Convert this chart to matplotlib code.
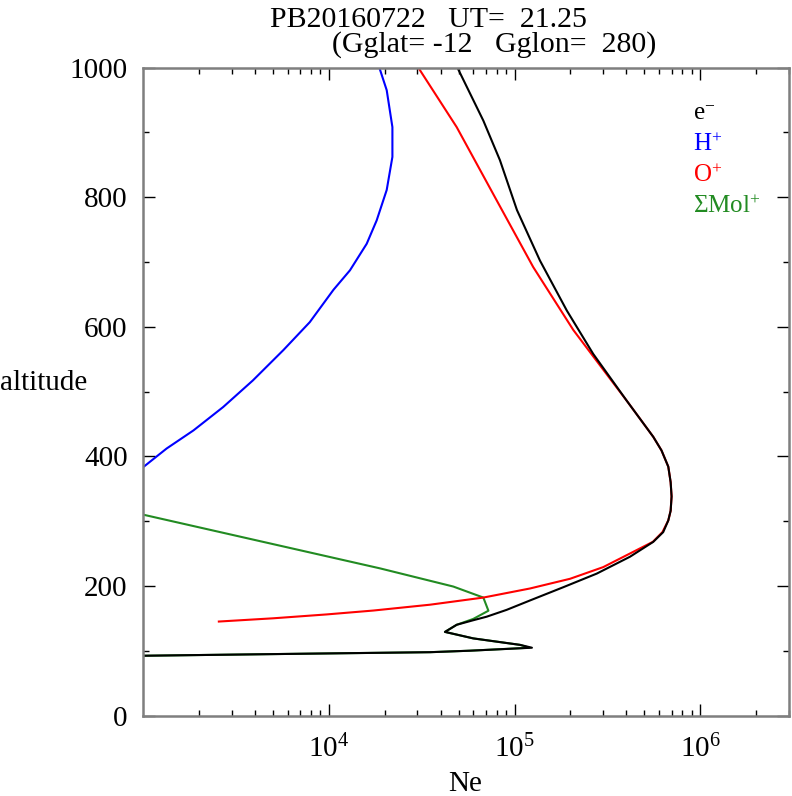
import matplotlib
matplotlib.use("Agg")
import matplotlib.pyplot as plt
from matplotlib.ticker import LogLocator, MultipleLocator

plt.rcParams["font.family"] = ["Liberation Serif", "DejaVu Serif"]
plt.rcParams["mathtext.fontset"] = "custom"
plt.rcParams["mathtext.rm"] = "Liberation Serif"
plt.rcParams["mathtext.it"] = "Liberation Serif:italic"

# electron density profile (e-)
e_alt = [1000, 918, 857, 780, 702, 625, 558, 486, 430, 409, 384, 360, 338, 316,
         301, 283, 268, 245, 219, 198, 177.5, 163, 152.5, 147, 140, 129, 119,
         109, 104.6, 100, 97.7, 95.4, 92.2, 91.5]
e_ne = [49200, 67900, 83400, 103000, 137000, 191000, 265000, 401000, 558000,
        618000, 672000, 692000, 700000, 692000, 672000, 631000, 558000, 418000,
        277000, 183000, 121000, 90600, 70800, 59900, 48800, 42200, 59900,
        107000, 124000, 57500, 35100, 7600, 1000, 700]

# H+
h_alt = [1000, 965, 908, 862, 811, 764, 728, 687, 657, 607, 564, 517, 476, 440, 412, 383, 370]
h_ne = [18700, 20500, 22000, 22000, 20500, 18100, 16000, 13000, 10600, 7900,
        5700, 3900, 2700, 1870, 1340, 1000, 850]

# O+
o_alt = [1000, 908, 795, 692, 595, 520, 486, 430, 409, 384, 360, 338, 316, 301,
         283, 268, 250, 229, 211, 196, 182, 171, 162, 156, 150, 145]
o_ne = [30300, 48800, 80100, 126000, 207000, 326000, 401000, 558000, 618000,
        672000, 692000, 700000, 692000, 672000, 625000, 555000, 418000, 300000,
        199000, 121000, 67900, 35100, 17400, 9760, 5020, 2560]

# Sum of molecular ions
m_alt = [315, 310, 227, 199, 182, 161.7, 149, 140, 129, 119, 109, 104.6, 100,
         97.7, 95.4, 92.2, 91.5]
m_ne = [850, 1000, 18900, 46800, 67900, 72300, 59900, 48800, 42200, 59900,
        107000, 120000, 57500, 35100, 7600, 1000, 700]

fig = plt.figure(figsize=(7.92, 7.96), dpi=100)
ax = fig.add_axes([143 / 792, 1 - 715.5 / 796, 646 / 792, 648 / 796])

ax.plot(h_ne, h_alt, color="#0000ff", lw=1.5)
ax.plot(m_ne, m_alt, color="#228b22", lw=1.5)
ax.plot(o_ne, o_alt, color="#ff0000", lw=1.5)
ax.plot(e_ne, e_alt, color="black", lw=1.5)

ax.set_xscale("log")
ax.set_xlim(1e3, 3e6)
ax.set_ylim(0, 1000)
ax.xaxis.set_minor_locator(LogLocator(base=10, subs=range(2, 10), numticks=20))
ax.set_xticks([1e4, 1e5, 1e6])
ax.yaxis.set_major_locator(MultipleLocator(200))
ax.yaxis.set_minor_locator(MultipleLocator(100))

for s in ax.spines.values():
    s.set_color("#7f7f7f")
    s.set_linewidth(1.8)
ax.tick_params(which="both", direction="in", top=True, right=True, color="black", width=1)
ax.tick_params(which="major", length=8.6, labelsize=21, pad=11)
ax.tick_params(which="minor", length=4.3)
ax.tick_params(axis="x", which="major", pad=14)

fig.text(428 / 792, 1 - 27 / 796, "PB20160722   UT=  21.25", ha="center",
         va="baseline", fontsize=21.5)
fig.text(494 / 792, 1 - 52 / 796, "(Gglat= -12   Gglon=  280)", ha="center",
         va="baseline", fontsize=21.5)
fig.text(0, 1 - 383 / 796, "altitude", ha="left", va="center", fontsize=21)
fig.text(465 / 792, 1 - 791 / 796, "Ne", ha="center", va="baseline", fontsize=21)

leg_labels = [r"e$^{-}$", r"H$^{+}$", r"O$^{+}$", r"$\Sigma$Mol$^{+}$"]
leg_colors = ["black", "#0000ff", "#ff0000", "#228b22"]
for i, (lab, col) in enumerate(zip(leg_labels, leg_colors)):
    fig.text(693 / 792, 1 - (120 + 31 * i) / 796, lab, color=col, fontsize=18,
             ha="left", va="baseline")

fig.savefig("out.png", dpi=100)
